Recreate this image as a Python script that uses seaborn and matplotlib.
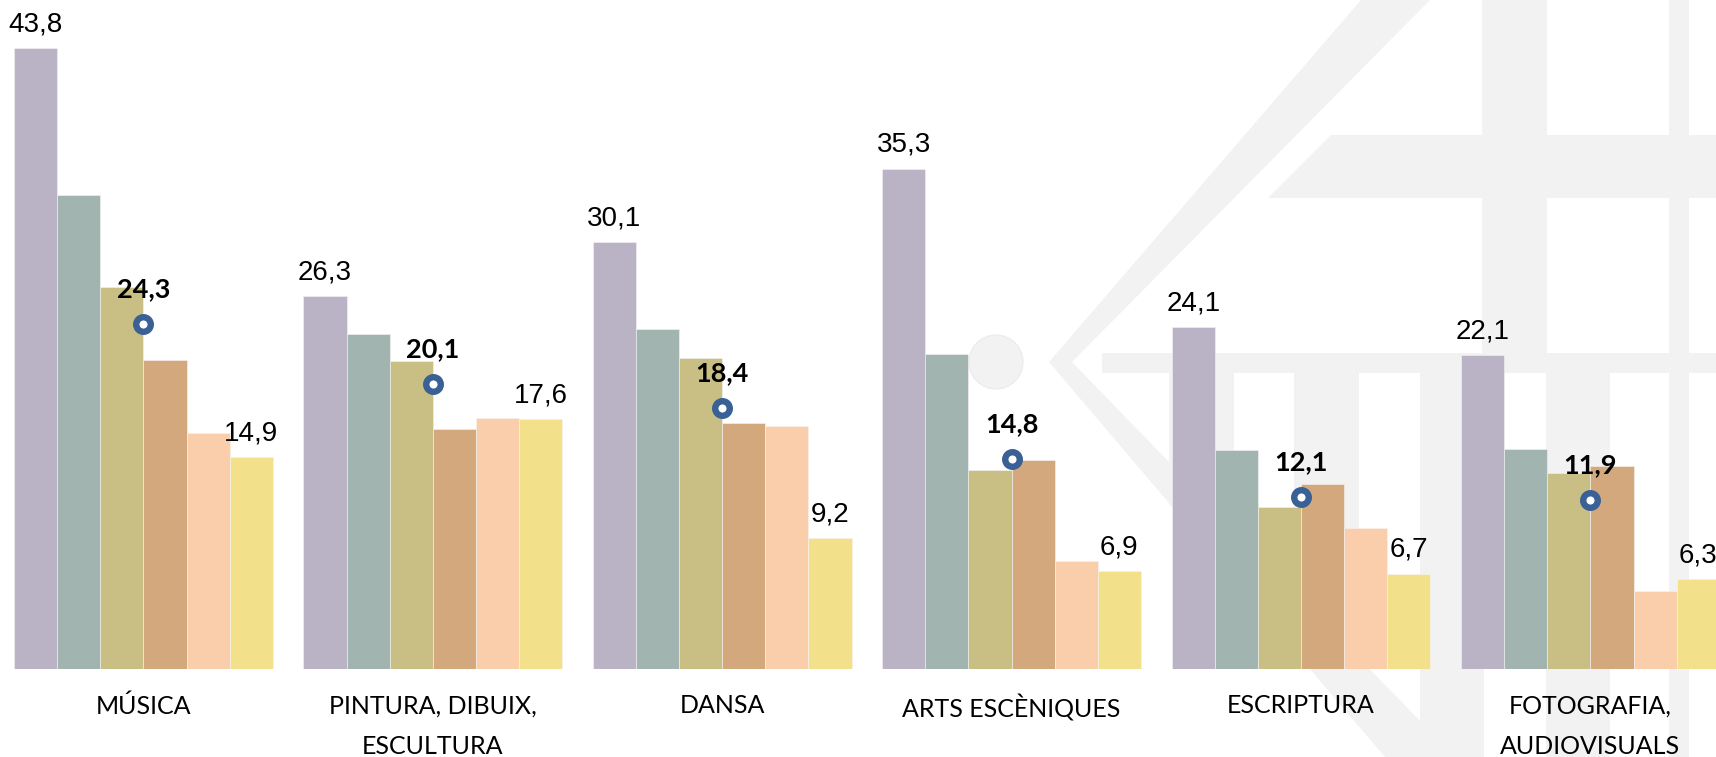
import numpy as np
import pandas as pd
import matplotlib
matplotlib.use("Agg")
import matplotlib.pyplot as plt
import seaborn as sns
from matplotlib.patches import Polygon, Circle

# ------------------ Data ------------------
categories = ['MÚSICA', 'PINTURA, DIBUIX,\nESCULTURA', 'DANSA', 'ARTS ESCÈNIQUES',
              'ESCRIPTURA', 'FOTOGRAFIA,\nAUDIOVISUALS']
series = ['s1', 's2', 's3', 's4', 's5', 's6']

s1 = [43.8, 26.3, 30.1, 35.3, 24.1, 22.1]
s2 = [33.4, 23.6, 24.0, 22.2, 15.4, 15.5]
s3 = [26.9, 21.7, 21.9, 14.0, 11.4, 13.8]
s4 = [21.8, 16.9, 17.3, 14.7, 13.0, 14.3]
s5 = [16.6, 17.7, 17.1, 7.6, 9.9, 5.5]
s6 = [14.9, 17.6, 9.2, 6.9, 6.7, 6.3]
mitjana = [24.3, 20.1, 18.4, 14.8, 12.1, 11.9]

colors = ['#BAB3C5', '#A2B4AF', '#C9BE84', '#D4A87D', '#FBCEAB', '#F2E18A']

df = pd.DataFrame({
    'cat': np.repeat(categories, 6),
    'serie': series * 6,
    'val': np.array([s1, s2, s3, s4, s5, s6]).T.ravel(),
})


def fmt(v):
    return f"{v:.1f}".replace('.', ',')


# ------------------ Figure ------------------
W, H = 1716, 757
fig = plt.figure(figsize=(W / 100, H / 100), dpi=100)

# background watermark (light grey logo shapes), in pixel coords
bg = fig.add_axes([0, 0, 1, 1], zorder=0)
bg.set_xlim(0, W)
bg.set_ylim(H, 0)
bg.axis('off')
wm = '#F2F2F2'

bg.add_patch(Polygon([(1361, 0), (1430, 0), (1072, 362), (1455, 757), (1385, 757), (1049, 362)],
                     closed=True, fc=wm, ec='none'))
bg.add_patch(Circle((996, 362), 27, fc=wm, ec='#EAEAEA', lw=0.8))

clip = Polygon([(1361, 0), (W, 0), (W, H), (1385, H), (1049, 362)], closed=True,
               transform=bg.transData, fc='none', ec='none')


def rect(x0, y0, x1, y1):
    return [(x0, y0), (x1, y0), (x1, y1), (x0, y1)]


bands = [
    [(1331, 135), (W, 135), (W, 198), (1268, 198)],
    rect(1102, 353, W, 373),
    rect(1482, 0, 1547, 373),
    rect(1669, 0, 1689, H),
]
for x0, x1 in [(1169, 1234), (1294, 1359), (1420, 1484), (1546, 1610)]:
    bands.append(rect(x0, 373, x1, H))
for verts in bands:
    p = Polygon(verts, closed=True, fc=wm, ec='none')
    bg.add_patch(p)
    p.set_clip_path(clip)

# main axes
bottom = (H - 668.5) / H
ax = fig.add_axes([0, bottom, 1, 1 - bottom], zorder=1)
ax.set_facecolor('none')

sns.barplot(data=df, x='cat', y='val', hue='serie', palette=colors, order=categories,
            hue_order=series, width=0.894, gap=0, saturation=1, errorbar=None,
            edgecolor='#F4F4F4', linewidth=0.4, legend=False, ax=ax)

ax.set_xlim(-143.4 / 289.4, (W - 143.4) / 289.4)
ax.set_ylim(0, 668.5 / 14.164)
for sp in ax.spines.values():
    sp.set_visible(False)
ax.set_xticks([])
ax.set_yticks([])
ax.set_xlabel('')
ax.set_ylabel('')

bw = 0.894 / 6
xpos = np.arange(len(categories))

# first and last bar labels
for i in xpos:
    ax.annotate(fmt(s1[i]), (i - 2.5 * bw, s1[i]), xytext=(0, 12), textcoords='offset points',
                ha='center', va='baseline', fontsize=20, family='Liberation Sans', color='black')
    ax.annotate(fmt(s6[i]), (i + 2.5 * bw, s6[i]), xytext=(0, 12), textcoords='offset points',
                ha='center', va='baseline', fontsize=20, family='Liberation Sans', color='black',
                annotation_clip=False)

# average markers
ax.plot(xpos, mitjana, linestyle='none', marker='o', markersize=10.5, markeredgewidth=4.6,
        markerfacecolor='white', markeredgecolor='#3A6195', zorder=5)
for i in xpos:
    ax.annotate(fmt(mitjana[i]), (i, mitjana[i]), xytext=(0, 19.5), textcoords='offset points',
                ha='center', va='baseline', fontsize=19.5, family='Lato', weight='bold',
                color='black')

# category labels
for i, c in enumerate(categories):
    ax.annotate(c, (i, 0), xytext=(0, -18.5), textcoords='offset points',
                ha='center', va='top', fontsize=18, family='Lato', color='black',
                linespacing=1.92, annotation_clip=False)

fig.savefig('out.png', dpi=100)
